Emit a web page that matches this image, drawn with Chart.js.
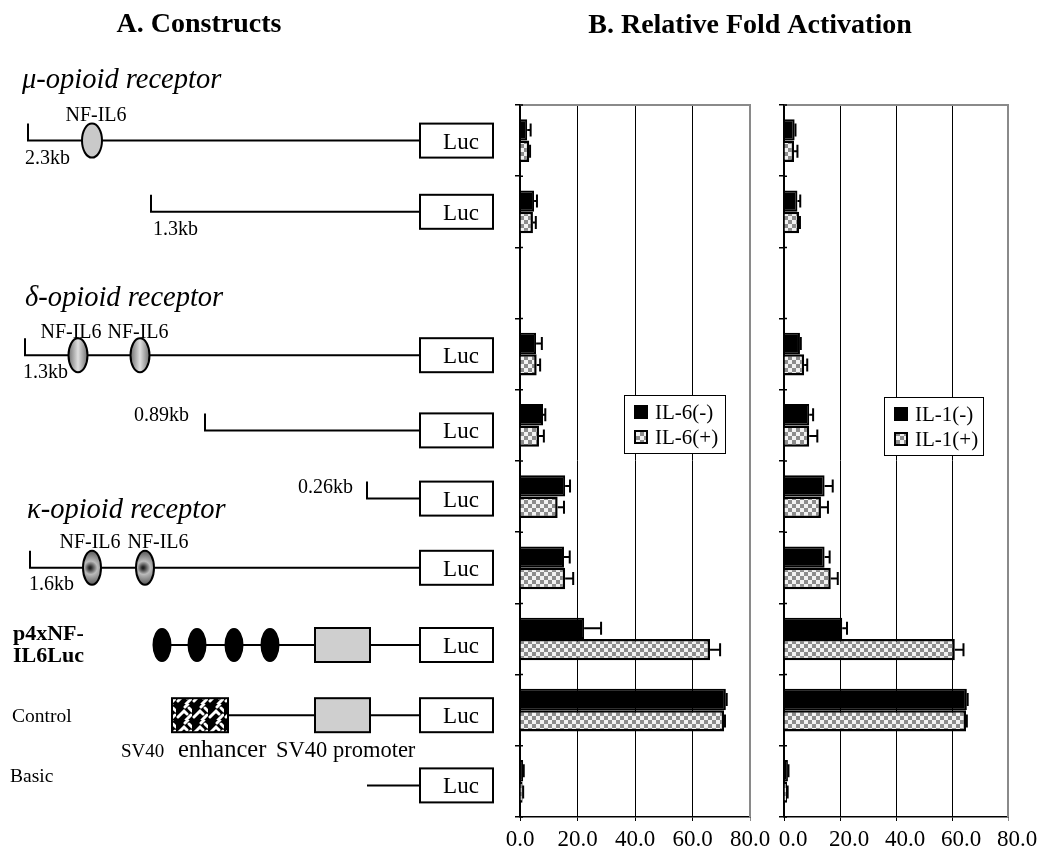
<!DOCTYPE html>
<html>
<head>
<meta charset="utf-8">
<script src="https://cdn.jsdelivr.net/npm/chart.js@4"></script>
<style>
  body { margin: 0; background: #fff; }
  #wrap { position: relative; width: 1050px; height: 863px; overflow: hidden; }
  canvas { position: absolute; top: 0; }
</style>
</head>
<body>
<div id="wrap">
  <canvas id="chart-il6" width="1050" height="863" style="left:0"></canvas>
  <canvas id="chart-il1" width="290" height="863" style="left:760px"></canvas>
</div>
<script>
// ---- data ----
const categories = ['mu 2.3kb', 'mu 1.3kb', '', 'delta 1.3kb', 'delta 0.89kb', 'delta 0.26kb',
                    'kappa 1.6kb', 'p4xNF-IL6Luc', 'Control', 'Basic'];
const xTicks = [0, 20, 40, 60, 80];

const il6Minus    = [2.5, 4.9, null, 5.6, 8.0, 15.7, 15.3, 22.3, 71.6, 1.1];
const il6MinusErr = [1.2, 1.0, null, 2.0, 0.8, 1.7, 2.0, 5.9, 0.3, 0.2];
const il6Plus     = [3.2, 4.5, null, 5.8, 6.6, 13.1, 15.7, 66.1, 71.0, 0.9];
const il6PlusErr  = [0.3, 1.0, null, 1.2, 1.7, 2.2, 2.8, 3.5, 0.3, 0.2];

const il1Minus    = [3.8, 4.8, null, 5.7, 9.0, 14.5, 14.5, 20.8, 65.3, 1.4];
const il1MinusErr = [0.3, 1.0, null, 0.3, 1.4, 2.9, 1.8, 1.7, 0.3, 0.2];
const il1Plus     = [3.6, 5.4, null, 7.2, 9.0, 13.2, 16.7, 61.0, 65.0, 1.1];
const il1PlusErr  = [1.2, 0.3, null, 1.1, 2.9, 2.5, 2.5, 3.1, 0.3, 0.2];

const SERIF = "'Liberation Serif', 'Times New Roman', serif";

// ---- fill patterns ----
function makeChecker() {
    const c = document.createElement('canvas');
    c.width = 8; c.height = 8;
    const g = c.getContext('2d');
    g.fillStyle = '#f2f2f2'; g.fillRect(0, 0, 8, 8);
    g.fillStyle = '#8c8c8c';
    g.fillRect(0, 0, 4, 4); g.fillRect(4, 4, 4, 4);
    return g.createPattern(c, 'repeat');
}

function makeEnhancer() {
    const c = document.createElement('canvas');
    c.width = 16; c.height = 16;
    const g = c.getContext('2d');
    g.fillStyle = '#000'; g.fillRect(0, 0, 16, 16);
    g.strokeStyle = '#fff'; g.lineWidth = 3; g.lineCap = 'round';
    g.beginPath();
    g.moveTo(2, 13); g.lineTo(8, 7); g.lineTo(11, 10);
    g.moveTo(9, 3); g.lineTo(12, 0);
    g.moveTo(10, 16); g.lineTo(15, 11);
    g.moveTo(13, 4); g.lineTo(16, 7);
    g.stroke();
    return g.createPattern(c, 'repeat');
}

const checker = makeChecker();
const enhancerFill = makeEnhancer();

// ---- plugins ----
const errorBars = {
    id: 'errorBars',
    afterDatasetsDraw(chart) {
        const ctx = chart.ctx, xs = chart.scales.x;
        ctx.save();
        ctx.strokeStyle = '#000';
        ctx.lineWidth = 2;
        chart.data.datasets.forEach((ds, i) => {
            const meta = chart.getDatasetMeta(i);
            meta.data.forEach((el, j) => {
                const v = ds.data[j], e = ds.errors[j];
                if (v == null || !e) return;
                const x0 = xs.getPixelForValue(v), x1 = xs.getPixelForValue(v + e);
                ctx.beginPath();
                ctx.moveTo(x0, el.y); ctx.lineTo(x1, el.y);
                ctx.moveTo(x1, el.y - 6.5); ctx.lineTo(x1, el.y + 6.5);
                ctx.stroke();
            });
        });
        ctx.restore();
    }
};

// frame, crossing y ticks and boxed legend inside the plot
const frameLegend = {
    id: 'frameLegend',
    afterDraw(chart, args, opts) {
        const ctx = chart.ctx, a = chart.chartArea, ys = chart.scales.y;
        ctx.save();
        ctx.strokeStyle = '#8a8a8a';
        ctx.lineWidth = 2;
        ctx.beginPath();
        ctx.moveTo(a.left, a.top); ctx.lineTo(a.right, a.top); ctx.lineTo(a.right, a.bottom);
        ctx.stroke();

        // short tick stubs on the inner side of the y axis
        ctx.strokeStyle = '#000'; ctx.lineWidth = 1.5;
        ctx.beginPath();
        for (let i = 0; i <= categories.length; i++) {
            const yy = ys.getPixelForValue(i - 0.5);
            ctx.moveTo(a.left, yy); ctx.lineTo(a.left + 3, yy);
        }
        ctx.stroke();

        const L = a.left + opts.dx, T = opts.top, W = opts.w, H = 58;
        ctx.fillStyle = '#fff';
        ctx.fillRect(L, T, W, H);
        ctx.strokeStyle = '#000'; ctx.lineWidth = 1;
        ctx.strokeRect(L + 0.5, T + 0.5, W, H);
        ctx.font = '21px ' + SERIF;
        ctx.textBaseline = 'alphabetic';
        ctx.textAlign = 'left';
        chart.data.datasets.forEach((ds, i) => {
            const sy = T + 10 + i * 25;
            ctx.fillStyle = ds.backgroundColor;
            ctx.fillRect(L + 10, sy, 14, 14);
            ctx.strokeStyle = '#000'; ctx.lineWidth = 2;
            ctx.strokeRect(L + 11, sy + 1, 12, 12);
            ctx.fillStyle = '#000';
            ctx.fillText(ds.label, L + 31, sy + 14);
        });
        ctx.restore();
    }
};

// construct schematics, rows aligned with the category scale
const constructs = {
    id: 'constructs',
    afterDraw(chart) {
        const ctx = chart.ctx, ys = chart.scales.y;
        const rowY = (i, dy) => ys.getPixelForValue(i) + dy;
        ctx.save();
        ctx.strokeStyle = '#000';
        ctx.fillStyle = '#000';
        ctx.lineWidth = 2;

        const text = (s, x, y, font, align) => {
            ctx.font = font; ctx.textAlign = align || 'left'; ctx.fillStyle = '#000';
            ctx.fillText(s, x, y);
        };
        const line = (x1, y1, x2, y2) => {
            ctx.beginPath(); ctx.moveTo(x1, y1); ctx.lineTo(x2, y2); ctx.stroke();
        };
        const start = (x, yc, x2) => {
            ctx.beginPath(); ctx.moveTo(x, yc - 17); ctx.lineTo(x, yc); ctx.lineTo(x2 || 420, yc); ctx.stroke();
        };
        const luc = yc => {
            ctx.fillStyle = '#fff';
            ctx.fillRect(420, yc - 17, 73, 34);
            ctx.strokeRect(420, yc - 17, 73, 34);
            text('Luc', 461, yc + 8, '23px ' + SERIF, 'center');
        };
        const oval = (x, yc, rx, ry, fill) => {
            ctx.beginPath(); ctx.ellipse(x, yc, rx, ry, 0, 0, Math.PI * 2);
            ctx.fillStyle = fill; ctx.fill(); ctx.stroke();
        };
        const box = (x1, x2, yc, fill) => {
            ctx.fillStyle = fill;
            ctx.fillRect(x1, yc - 17, x2 - x1, 34);
            ctx.strokeRect(x1, yc - 17, x2 - x1, 34);
        };
        const linGrad = (x, yc) => {
            const g = ctx.createLinearGradient(x - 10, yc, x + 10, yc);
            g.addColorStop(0, '#6a6a6a'); g.addColorStop(0.5, '#e0e0e0'); g.addColorStop(1, '#6a6a6a');
            return g;
        };
        const radGrad = (x, yc) => {
            const g = ctx.createRadialGradient(x - 2, yc, 1, x, yc, 17);
            g.addColorStop(0, '#222'); g.addColorStop(0.35, '#bbb'); g.addColorStop(1, '#555');
            return g;
        };
        const small = '20px ' + SERIF, kb = '20px ' + SERIF, head = 'italic 28.5px ' + SERIF;

        // titles
        text('A. Constructs', 199, 32, 'bold 28px ' + SERIF, 'center');
        text('B. Relative Fold Activation', 750, 33, 'bold 28px ' + SERIF, 'center');

        // mu-opioid receptor
        text('\u03bc-opioid receptor', 22, 88, head);
        let y = rowY(0, 0);
        start(28, y);
        oval(92, y, 10, 17, '#c9c9c9');
        text('NF-IL6', 96, y - 20, small, 'center');
        text('2.3kb', 25, y + 23, kb);
        luc(y);

        y = rowY(1, 0);
        start(151, y);
        text('1.3kb', 153, y + 23, kb);
        luc(y);

        // delta-opioid receptor
        text('\u03b4-opioid receptor', 25, 306, head);
        y = rowY(3, 1);
        start(25, y);
        oval(78, y, 9.5, 17, linGrad(78, y));
        oval(140, y, 9.5, 17, linGrad(140, y));
        text('NF-IL6', 71, y - 17, small, 'center');
        text('NF-IL6', 138, y - 17, small, 'center');
        text('1.3kb', 23, y + 23, kb);
        luc(y);

        y = rowY(4, 5);
        start(205, y);
        text('0.89kb', 189, y - 9, kb, 'right');
        luc(y);

        y = rowY(5, 2);
        start(367, y);
        text('0.26kb', 353, y - 6, kb, 'right');
        luc(y);

        // kappa-opioid receptor
        text('\u03ba-opioid receptor', 27, 518, head);
        y = rowY(6, 0);
        start(30, y);
        oval(92, y, 9, 17, radGrad(92, y));
        oval(145, y, 9, 17, radGrad(145, y));
        text('NF-IL6', 90, y - 20, small, 'center');
        text('NF-IL6', 158, y - 20, small, 'center');
        text('1.6kb', 29, y + 22, kb);
        luc(y);

        // p4xNF-IL6Luc
        y = rowY(7, 6);
        line(162, y, 420, y);
        [162, 197, 234, 270].forEach(x => oval(x, y, 8.5, 16, '#000'));
        box(315, 370, y, '#cfcfcf');
        text('p4xNF-', 13, y - 5, 'bold 22px ' + SERIF);
        text('IL6Luc', 13, y + 17, 'bold 22px ' + SERIF);
        luc(y);

        // Control
        y = rowY(8, 5);
        line(228, y, 420, y);
        box(172, 228, y, enhancerFill);
        box(315, 370, y, '#cfcfcf');
        text('Control', 12, y + 7, '19.5px ' + SERIF);
        text('SV40', 121, y + 42, '19px ' + SERIF);
        text('enhancer', 178, y + 42, '24.5px ' + SERIF);
        text('SV40 promoter', 276, y + 42, '22.5px ' + SERIF);
        luc(y);

        // Basic
        y = rowY(9, 4);
        line(367, y, 420, y);
        text('Basic', 10, y - 3, '19.5px ' + SERIF);
        luc(y);

        ctx.restore();
    }
};

// ---- chart builder ----
function buildChart(id, labels, minus, minusErr, plus, plusErr, opt) {
    const datasets = [
        { label: labels[0], data: minus, errors: minusErr,
          backgroundColor: '#000', borderColor: '#000', borderWidth: 2 },
        { label: labels[1], data: plus, errors: plusErr,
          backgroundColor: checker, borderColor: '#000', borderWidth: 2.5 }
    ];
    return new Chart(document.getElementById(id), {
        type: 'bar',
        data: { labels: categories, datasets: datasets },
        options: {
            indexAxis: 'y',
            responsive: false,
            animation: false,
            categoryPercentage: 0.6,
            barPercentage: 1.0,
            layout: { padding: { top: 105, right: opt.padRight, left: 0, bottom: 0 } },
            plugins: {
                legend: { display: false },
                tooltip: { enabled: false },
                frameLegend: { dx: opt.legendDx, top: opt.legendTop, w: opt.legendW }
            },
            scales: {
                y: {
                    grid: { offset: true, drawOnChartArea: false, tickLength: 5, color: '#000', lineWidth: 1.5 },
                    ticks: { display: false },
                    border: { color: '#000', width: 1.5 },
                    afterFit: s => { s.width = opt.yWidth; }
                },
                x: {
                    min: 0, max: 80,
                    afterBuildTicks: s => { s.ticks = xTicks.map(v => ({ value: v })); },
                    ticks: {
                        color: '#000', padding: 5,
                        labelOffset: opt.labelOffset,
                        font: { family: SERIF, size: 23 },
                        callback: v => Number(v).toFixed(1)
                    },
                    grid: {
                        tickLength: 4,
                        lineWidth: 1,
                        color: c => (c.tick && c.tick.value === 80) ? '#8a8a8a' : '#000'
                    },
                    border: { color: '#000', width: 1.5 },
                    afterFit: s => { s.height = 46; }
                }
            }
        },
        plugins: opt.extra.concat([errorBars, frameLegend])
    });
}

buildChart('chart-il6', ['IL-6(-)', 'IL-6(+)'], il6Minus, il6MinusErr, il6Plus, il6PlusErr,
    { padRight: 300, yWidth: 520, legendDx: 104, legendTop: 395, legendW: 101, labelOffset: 0,
      extra: [constructs] });

buildChart('chart-il1', ['IL-1(-)', 'IL-1(+)'], il1Minus, il1MinusErr, il1Plus, il1PlusErr,
    { padRight: 42, yWidth: 24, legendDx: 100, legendTop: 397, legendW: 99, labelOffset: 9,
      extra: [] });
</script>
</body>
</html>
